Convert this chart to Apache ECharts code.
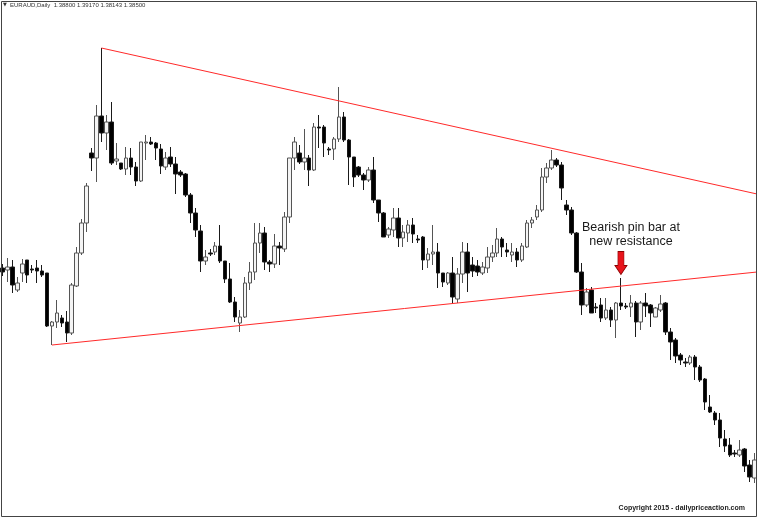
<!DOCTYPE html>
<html>
<head>
<meta charset="utf-8">
<script src="https://cdn.jsdelivr.net/npm/echarts@6/dist/echarts.min.js"></script>
<style>html,body{margin:0;padding:0;background:#fff}#c{width:760px;height:520px}</style>
</head>
<body>
<div id="c"></div>
<script>
// ---- data (EURAUD, Daily) ----
const symbolName = 'EURAUD,Daily';
const headerQuote = ['1.38800', '1.39170', '1.38143', '1.38500'];

const opens = [
  1.484, 1.483, 1.4845, 1.473, 1.4815, 1.488, 1.4835, 1.484, 1.4825, 1.4815,
  1.455, 1.457, 1.459, 1.457, 1.4515, 1.475, 1.4915, 1.5065, 1.5415, 1.539,
  1.560, 1.5515, 1.557, 1.5375, 1.5365, 1.5335, 1.539, 1.5345, 1.5275, 1.5465,
  1.547, 1.5465, 1.5435, 1.5345, 1.5395, 1.536, 1.532, 1.531, 1.5205, 1.5115,
  1.5025, 1.4875, 1.4915, 1.492, 1.495, 1.4875, 1.4785, 1.467, 1.4565, 1.4595,
  1.4765, 1.482, 1.4965, 1.5015, 1.487, 1.486, 1.495, 1.4935, 1.5095, 1.539,
  1.5415, 1.537, 1.539, 1.533, 1.5545, 1.5545, 1.5435, 1.5435, 1.5485, 1.5595,
  1.548, 1.5395, 1.5345, 1.5305, 1.528, 1.533, 1.518, 1.5115, 1.5005, 1.503,
  1.509, 1.499, 1.5015, 1.5055, 1.4985, 1.4995, 1.488, 1.491, 1.492, 1.4815,
  1.4765, 1.4815, 1.4685, 1.481, 1.492, 1.4855, 1.485, 1.4815, 1.484, 1.4895,
  1.4915, 1.4985, 1.493, 1.4905, 1.492, 1.488, 1.4945, 1.5065, 1.5095, 1.513,
  1.5295, 1.534, 1.538, 1.5355, 1.5155, 1.513, 1.5015, 1.482, 1.4655, 1.473,
  1.4645, 1.4655, 1.459, 1.463, 1.458, 1.4665, 1.465, 1.4645, 1.4665, 1.457,
  1.4665, 1.4655, 1.4595, 1.463, 1.4665, 1.452, 1.448, 1.4405, 1.437, 1.4365,
  1.4395, 1.4345, 1.4285, 1.4145, 1.4115, 1.408, 1.3985, 1.3955, 1.3915, 1.3905,
  1.3935, 1.3855, 1.379
];
const closes = [
  1.482, 1.4845, 1.4755, 1.4765, 1.486, 1.4805, 1.483, 1.4825, 1.4805, 1.455,
  1.457, 1.4615, 1.4565, 1.4515, 1.4755, 1.4915, 1.5065, 1.525, 1.539, 1.560,
  1.5515, 1.557, 1.5365, 1.5385, 1.5335, 1.539, 1.5345, 1.5275, 1.547, 1.547,
  1.546, 1.544, 1.535, 1.539, 1.536, 1.531, 1.5305, 1.5205, 1.5115, 1.503,
  1.4875, 1.4895, 1.491, 1.495, 1.4875, 1.4785, 1.467, 1.4595, 1.4595, 1.4765,
  1.482, 1.4965, 1.5015, 1.487, 1.486, 1.495, 1.494, 1.5095, 1.539, 1.547,
  1.537, 1.539, 1.533, 1.5545, 1.554, 1.5465, 1.543, 1.5485, 1.5595, 1.548,
  1.5395, 1.5295, 1.5305, 1.528, 1.533, 1.518, 1.5115, 1.4995, 1.5035, 1.509,
  1.499, 1.502, 1.5055, 1.501, 1.498, 1.488, 1.491, 1.492, 1.4815, 1.477,
  1.4815, 1.4695, 1.481, 1.492, 1.4815, 1.4825, 1.482, 1.4845, 1.4895, 1.4915,
  1.4985, 1.4945, 1.492, 1.492, 1.488, 1.495, 1.5065, 1.508, 1.513, 1.5295,
  1.534, 1.538, 1.5355, 1.524, 1.513, 1.5015, 1.482, 1.4655, 1.472, 1.4615,
  1.464, 1.459, 1.463, 1.458, 1.4665, 1.465, 1.4645, 1.4665, 1.457, 1.4665,
  1.465, 1.4615, 1.464, 1.466, 1.452, 1.447, 1.440, 1.438, 1.4365, 1.4395,
  1.4345, 1.428, 1.417, 1.412, 1.408, 1.399, 1.395, 1.3905, 1.391, 1.393,
  1.385, 1.3795, 1.388
];
const lows = [
  1.480, 1.477, 1.4715, 1.472, 1.477, 1.4765, 1.4815, 1.4765, 1.4795, 1.4545,
  1.4455, 1.454, 1.4545, 1.447, 1.4505, 1.4745, 1.4905, 1.502, 1.5325, 1.527,
  1.547, 1.543, 1.5355, 1.5355, 1.533, 1.5305, 1.5305, 1.525, 1.527, 1.538,
  1.5455, 1.538, 1.531, 1.533, 1.5345, 1.521, 1.5295, 1.5195, 1.5065, 1.4995,
  1.482, 1.4855, 1.490, 1.4905, 1.4865, 1.4765, 1.4665, 1.457, 1.452, 1.459,
  1.473, 1.478, 1.4915, 1.483, 1.482, 1.484, 1.4855, 1.492, 1.5065, 1.533,
  1.536, 1.533, 1.525, 1.5325, 1.544, 1.5395, 1.5405, 1.538, 1.547, 1.547,
  1.5255, 1.5245, 1.5295, 1.523, 1.527, 1.5165, 1.507, 1.4995, 1.499, 1.4995,
  1.4945, 1.4945, 1.497, 1.4965, 1.4965, 1.483, 1.484, 1.4855, 1.474, 1.4745,
  1.4755, 1.4665, 1.4665, 1.4765, 1.472, 1.4795, 1.480, 1.4805, 1.4815, 1.487,
  1.4895, 1.4895, 1.4895, 1.487, 1.4845, 1.487, 1.494, 1.504, 1.508, 1.512,
  1.5265, 1.533, 1.5345, 1.518, 1.5105, 1.5005, 1.4815, 1.4605, 1.4645, 1.4615,
  1.4615, 1.457, 1.458, 1.4545, 1.449, 1.463, 1.4635, 1.4595, 1.4495, 1.453,
  1.4595, 1.4545, 1.4595, 1.462, 1.4505, 1.438, 1.4365, 1.4355, 1.4345, 1.4355,
  1.428, 1.427, 1.413, 1.4115, 1.4055, 1.3945, 1.392, 1.3895, 1.3895, 1.3895,
  1.382, 1.377, 1.3765
];
const highs = [
  1.486, 1.489, 1.488, 1.4795, 1.4885, 1.488, 1.4855, 1.488, 1.4855, 1.4815,
  1.4575, 1.468, 1.4605, 1.4625, 1.4765, 1.4945, 1.5085, 1.5265, 1.544, 1.5655,
  1.594, 1.5605, 1.567, 1.5465, 1.5365, 1.5445, 1.544, 1.537, 1.547, 1.5505,
  1.5495, 1.547, 1.546, 1.542, 1.5445, 1.5395, 1.533, 1.5315, 1.5215, 1.514,
  1.5055, 1.493, 1.4935, 1.497, 1.5055, 1.4875, 1.4865, 1.4695, 1.463, 1.4795,
  1.487, 1.5065, 1.5065, 1.5045, 1.488, 1.501, 1.497, 1.512, 1.539, 1.5495,
  1.5455, 1.5535, 1.5405, 1.5565, 1.5605, 1.5555, 1.5445, 1.5495, 1.5745, 1.562,
  1.5485, 1.5395, 1.535, 1.5315, 1.5345, 1.5395, 1.518, 1.512, 1.5045, 1.514,
  1.514, 1.5055, 1.508, 1.509, 1.5005, 1.500, 1.494, 1.5055, 1.4965, 1.4815,
  1.482, 1.4895, 1.484, 1.497, 1.4965, 1.4895, 1.488, 1.487, 1.4945, 1.4955,
  1.504, 1.4995, 1.4965, 1.4965, 1.494, 1.4965, 1.508, 1.5095, 1.5155, 1.534,
  1.5365, 1.543, 1.539, 1.537, 1.518, 1.5145, 1.502, 1.4865, 1.474, 1.4745,
  1.4665, 1.469, 1.469, 1.4645, 1.467, 1.479, 1.4665, 1.4705, 1.4675, 1.4675,
  1.4715, 1.466, 1.4645, 1.4705, 1.467, 1.454, 1.449, 1.4415, 1.439, 1.4405,
  1.4405, 1.4355, 1.429, 1.4205, 1.4125, 1.4115, 1.403, 1.399, 1.393, 1.398,
  1.394, 1.388, 1.3915
];

// trendlines: [bar position, price]
const upperTrend = [[20, 1.594], [152.5, 1.521]];
const lowerTrend = [[10, 1.4455], [152.5, 1.482]];

const pinBarIndex = 125;
const annotationText = 'Bearish pin bar at\nnew resistance';
const copyrightText = 'Copyright 2015 - dailypriceaction.com';
const priceMin = 1.358, priceMax = 1.618;

// ---- build ----
const bars = opens.map((_, i) => 'D' + (i + 1));
const ohlc = opens.map((o, i) => [o, closes[i], lows[i], highs[i]]);

const chart = echarts.init(document.getElementById('c'), null, { renderer: 'canvas' });
chart.setOption({
  animation: false,
  backgroundColor: '#ffffff',
  grid: { left: 0, top: 0, width: 757, height: 520, containLabel: false },
  xAxis: [
    { type: 'category', data: bars, show: false, boundaryGap: true },
    { type: 'value', min: -0.5, max: bars.length - 0.5, show: false }
  ],
  yAxis: { type: 'value', min: priceMin, max: priceMax, show: false, splitLine: { show: false } },
  series: [
    {
      type: 'candlestick',
      data: ohlc,
      barWidth: 4,
      itemStyle: {
        color: '#f4f4f4', borderColor: '#555555',
        color0: '#000000', borderColor0: '#1a1a1a', borderWidth: 1
      },
      markPoint: {
        silent: true,
        data: [{
          coord: [bars[pinBarIndex], highs[pinBarIndex]],
          symbol: 'path://M3,0 L9,0 L9,14 L12,14 L6,23 L0,14 L3,14 Z',
          symbolSize: [12, 23],
          symbolOffset: [0, -15],
          itemStyle: { color: '#e8141c', borderColor: '#8a0000', borderWidth: 0.8 },
          label: {
            show: true, formatter: annotationText, position: 'top', distance: 2,
            offset: [10, 0], color: '#1a1a1a', fontSize: 12.5, lineHeight: 14,
            fontFamily: '"Liberation Sans", Arial, sans-serif', align: 'center'
          }
        }]
      }
    },
    {
      type: 'line', xAxisIndex: 1, data: upperTrend, symbol: 'none', silent: true,
      lineStyle: { color: '#ff2a2a', width: 1 }, z: 3
    },
    {
      type: 'line', xAxisIndex: 1, data: lowerTrend, symbol: 'none', silent: true,
      lineStyle: { color: '#ff2a2a', width: 1 }, z: 3
    }
  ],
  graphic: [
    { type: 'rect', shape: { x: 1.5, y: 1.5, width: 755, height: 515 },
      style: { fill: 'none', stroke: '#444444', lineWidth: 1 }, z: 100, silent: true },
    { type: 'text', x: 3, y: 5, z: 100, silent: true,
      style: { text: '\u25BC', font: '5px "DejaVu Sans"', fill: '#333', verticalAlign: 'middle' } },
    { type: 'text', x: 10, y: 5, z: 100, silent: true,
      style: { text: symbolName + '  ' + headerQuote.join(' '),
               font: '6px "Liberation Sans", Arial', fill: '#333', verticalAlign: 'middle' } },
    { type: 'text', x: 745, y: 508, z: 100, silent: true,
      style: { text: copyrightText, font: 'bold 7px "Liberation Sans", Arial', fill: '#222',
               align: 'right', verticalAlign: 'middle' } }
  ]
});
</script>
</body>
</html>
